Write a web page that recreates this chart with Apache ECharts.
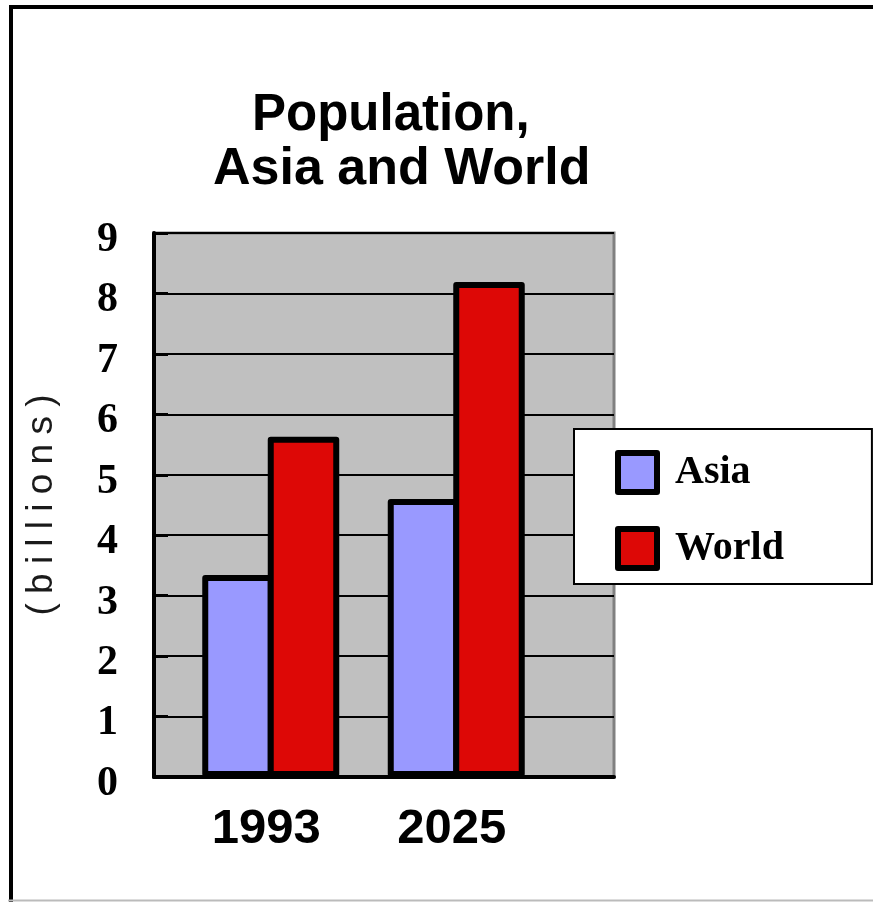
<!DOCTYPE html>
<html lang="en">
  <head>
    <meta charset="UTF-8" />
    <script src="https://cdn.jsdelivr.net/npm/echarts@6/dist/echarts.min.js"></script>
    <title>Population, Asia and World</title>
    <style>
      body { margin: 0; background: #fff; }
    </style>
  </head>
  <body>
    <div id="main" style="width: 873px; height: 902px"></div>
    <script>
      // categories
      const years = ["1993", "2025"];
      // population, billions
      const asia = [3.34, 4.6];
      const world = [5.63, 8.19];
      // y axis range
      const yMin = 0;
      const yMax = 9;
      const yStep = 1;

      const sans = '"Liberation Sans", Arial, sans-serif';
      const serif = '"Liberation Serif", "Times New Roman", serif';

      var myChart = echarts.init(document.getElementById("main"));
      myChart.setOption({
        animation: false,
        title: [
          {
            text: "Population,",
            left: 252,
            top: 90,
            padding: 0,
            textStyle: { fontFamily: sans, fontWeight: "bold", fontSize: 51, lineHeight: 51, color: "#000" },
          },
          {
            text: "Asia and World",
            left: 213,
            top: 144,
            padding: 0,
            textStyle: { fontFamily: sans, fontWeight: "bold", fontSize: 52, lineHeight: 52, color: "#000" },
          },
        ],
        graphic: [
          {
            type: "rect",
            silent: true,
            shape: { x: 11, y: 7, width: 1000, height: 1000 },
            style: { fill: "none", stroke: "#000", lineWidth: 4 },
          },
          {
            type: "line",
            silent: true,
            shape: { x1: 8, y1: 900.5, x2: 873, y2: 900.5 },
            style: { stroke: "#bbb", lineWidth: 2 },
          },
          {
            // spread-out axis title, four-per-em spaces between letters
            type: "text",
            silent: true,
            x: 42,
            y: 505,
            rotation: Math.PI / 2,
            style: {
              text: "(\u2005b\u2005i\u2005l\u2005l\u2005i\u2005o\u2005n\u2005s\u2005)",
              font: "37px " + sans,
              fill: "#1a1a1a",
              align: "center",
              verticalAlign: "middle",
            },
          },
        ],
        legend: {
          orient: "vertical",
          left: 574,
          top: 429,
          data: ["Asia", "World"],
          icon: "rect",
          itemWidth: 39,
          itemHeight: 39,
          itemGap: 31,
          padding: [21, 88, 13, 41],
          backgroundColor: "#fff",
          borderColor: "#000",
          borderWidth: 2,
          borderRadius: 0,
          itemStyle: { borderColor: "#000", borderWidth: 6, borderJoin: "round" },
          textStyle: {
            fontFamily: serif,
            fontWeight: "bold",
            fontSize: 40,
            lineHeight: 40,
            color: "#000",
            padding: [0, 0, 0, 13],
          },
        },
        grid: [
          {
            left: 154,
            right: 259,
            top: 233,
            bottom: 125,
            show: true,
            backgroundColor: "#c0c0c0",
            borderColor: "#808080",
            borderWidth: 3,
            outerBoundsMode: "none",
          },
          { left: 178, right: 324, top: 233, bottom: 125, outerBoundsMode: "none" },
        ],
        xAxis: [
          {
            gridIndex: 0,
            type: "category",
            data: years,
            axisLine: { lineStyle: { color: "#000", width: 4 } },
            axisTick: { show: false },
            axisLabel: { show: false },
          },
          {
            gridIndex: 1,
            type: "category",
            data: years,
            axisLine: { show: false },
            axisTick: { show: false },
            axisLabel: {
              fontFamily: sans,
              fontWeight: "bold",
              fontSize: 49,
              color: "#000",
              margin: 28,
              padding: [0, 9, 0, 0],
            },
          },
        ],
        yAxis: [
          {
            gridIndex: 0,
            type: "value",
            min: yMin,
            max: yMax,
            interval: yStep,
            axisLine: { show: true, lineStyle: { color: "#000", width: 4 } },
            axisTick: { show: true, inside: true, length: 14, lineStyle: { color: "#000", width: 3 } },
            splitLine: { lineStyle: { color: "#000", width: 2 } },
            axisLabel: {
              fontFamily: serif,
              fontWeight: "bold",
              fontSize: 42,
              color: "#000",
              margin: 36,
              verticalAlign: "top",
              lineHeight: 14,
            },
          },
          { gridIndex: 1, type: "value", min: yMin, max: yMax, interval: yStep, show: false },
        ],
        series: [
          {
            name: "Asia",
            type: "bar",
            xAxisIndex: 1,
            yAxisIndex: 1,
            data: asia,
            barWidth: 71.5,
            barGap: "-8.4%",
            itemStyle: { color: "#9999ff", borderColor: "#000", borderWidth: 6, borderJoin: "round" },
          },
          {
            name: "World",
            type: "bar",
            xAxisIndex: 1,
            yAxisIndex: 1,
            data: world,
            barWidth: 71.5,
            barGap: "-8.4%",
            itemStyle: { color: "#dd0806", borderColor: "#000", borderWidth: 6, borderJoin: "round" },
          },
        ],
      });
    </script>
  </body>
</html>
